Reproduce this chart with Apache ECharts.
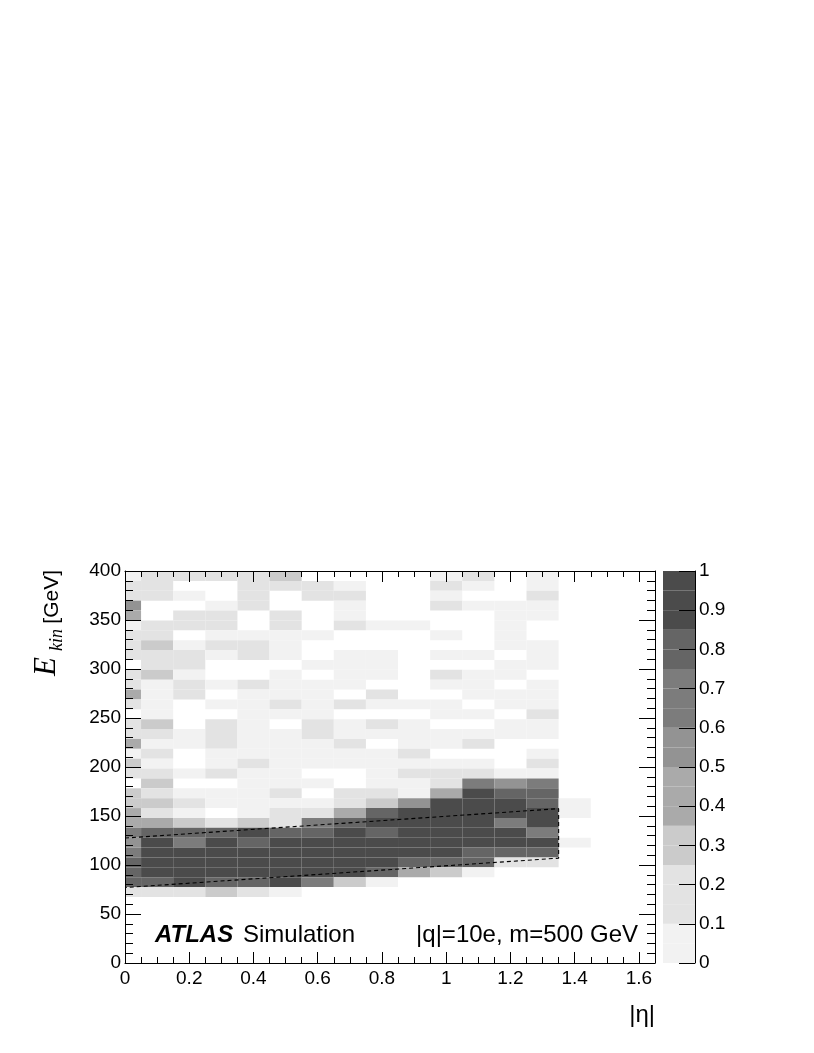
<!DOCTYPE html>
<html>
<head>
<meta charset="utf-8">
<script src="https://cdn.jsdelivr.net/npm/echarts@6/dist/echarts.min.js"></script>
<style>
html,body{margin:0;padding:0;background:#fff;}
#main{width:814px;height:1053px;}
</style>
</head>
<body>
<div id="main"></div>
<script>
// |eta| bin edges (first bin is cut at 0)
var etaEdges = [0, 0.05, 0.15, 0.25, 0.35, 0.45, 0.55, 0.65, 0.75, 0.85, 0.95, 1.05, 1.15, 1.25, 1.35, 1.45];
// E_kin rows, from the top of the plot downwards
var eTop = 400;
var eStep = 10.08;
// efficiency per cell, one row per E_kin bin (top row first), one value per |eta| bin
var eff = [
	[.05,.15,.15,.15,.15,.3,0,0,0,0,.05,.15,0,.05,0],
	[.15,.15,0,0,.15,.15,.15,.05,0,0,.15,.05,0,.05,0],
	[.15,.15,.05,0,.15,0,.15,.15,0,0,.05,0,0,.15,0],
	[.55,0,0,.05,.15,0,0,.05,0,0,.15,.05,.05,.05,0],
	[.45,0,.15,.15,0,.15,0,.05,0,0,0,0,.05,.05,0],
	[.05,.15,.15,.15,0,.15,0,.15,.05,.05,0,0,.05,0,0],
	[.15,.15,0,.05,.05,.05,.05,0,0,0,.05,0,.05,0,0],
	[.15,.3,.05,.15,.15,.05,0,0,0,0,0,0,.05,.05,0],
	[.15,.15,.15,.05,.15,.05,0,.05,.05,0,.05,.05,0,.05,0],
	[0,.15,.15,0,0,0,.05,.05,.05,0,0,0,.05,.05,0],
	[.15,.3,.05,0,0,.05,0,.05,.05,0,.15,.05,.05,0,0],
	[.15,.05,.15,.05,.15,.05,.05,.05,0,0,.05,.05,0,.05,0],
	[.45,.05,.15,0,.05,.05,.05,0,.15,0,0,.05,.05,.05,0],
	[.15,.05,0,.05,.05,.15,.05,.15,.05,.05,.05,0,.05,.05,0],
	[0,.05,0,0,.05,.05,.05,0,0,0,.05,.05,0,.15,0],
	[.15,.3,0,.15,.05,0,.15,.05,.15,.05,0,0,.05,.05,0],
	[.15,.15,.05,.15,.05,.05,.15,.05,.05,.05,.05,.05,.05,.05,0],
	[.45,.05,.05,.15,.05,.05,.05,.15,0,.05,.05,.15,0,0,0],
	[.05,.15,0,.05,.05,.05,.05,.05,.05,.15,0,0,0,.05,0],
	[.3,.05,0,.05,.15,.05,.05,.05,.05,.05,.05,.05,0,.15,0],
	[.15,.15,.05,.15,.05,.05,0,0,.05,.15,.15,.15,.05,.05,0],
	[0,.3,0,0,.05,.05,.05,0,.05,.05,.15,.7,.55,.7,0],
	[.3,.15,.05,.05,.05,.15,0,.15,.15,.05,.45,.93,.8,.8,0],
	[.3,.3,.15,.05,.05,.05,.05,.15,.3,.55,.93,.93,.93,.8,.05],
	[.45,.15,.05,0,.05,.15,.15,.45,.8,.93,.93,.93,.93,.93,.05],
	[.45,.45,.3,.15,.3,.2,.7,.8,.93,.93,.93,.93,.7,.93,0],
	[.6,.8,.8,.8,.93,.8,.8,.93,.8,.93,.93,.93,.93,.7,0],
	[.55,.93,.7,.93,.8,.93,.93,.93,.93,.93,.93,.93,.93,.93,.05],
	[.65,.93,.93,.93,.93,.93,.93,.93,.93,.93,.93,.8,.8,.8,0],
	[.8,.93,.93,.93,.93,.93,.93,.93,.93,.8,.8,.8,.15,.15,0],
	[.78,.93,.93,.93,.93,.93,.93,.93,.78,.45,.3,.05,0,0,0],
	[.8,.8,.93,.8,.8,.93,.7,.3,.05,0,0,0,0,0,0],
	[.15,.15,.15,.3,.15,.05,0,0,0,0,0,0,0,0,0]
];
// dashed selection region (|eta|, E_kin)
var cutEta = [0, 1.35, 1.35, 0];
var cutE = [127.5, 157.5, 107, 77];
// grey palette, 20 steps from 0 to 1
var palette = [
	'#f2f2f2','#f2f2f2',
	'#e3e3e3','#e3e3e3','#e3e3e3',
	'#cbcbcb','#cbcbcb',
	'#aaaaaa','#aaaaaa','#aaaaaa',
	'#939393','#939393',
	'#7c7c7c','#7c7c7c','#7c7c7c',
	'#656565','#656565',
	'#4b4b4b','#4b4b4b','#4b4b4b'
];

var cells = [];
eff.forEach(function(row, r){
	row.forEach(function(v, c){
		if(v > 0){
			cells.push([etaEdges[c], etaEdges[c+1], eTop - eStep*(r+1), eTop - eStep*r, v]);
		}
	});
});
var pieces = palette.map(function(col, i){
	var p = {gte: i/20, color: col};
	if(i < 19) p.lt = (i+1)/20; else p.lte = 1;
	return p;
});
var bands = palette.map(function(col, i){
	return [i/20, (i+1)/20, i];
});
var cutLine = cutEta.map(function(x, i){ return [x, cutE[i]]; });

var font = 'Liberation Sans, Arial, sans-serif';
var serif = 'Liberation Serif, Times New Roman, serif';
var black = {color:'#000', width:1};

//common axis pieces
function frameX(pos, interval, len, labels){
	return {gridIndex:0, type:'value', position:pos, min:0, max:1.65, interval:interval, z:10,
		axisLine:{show:len > 10, onZero:false, lineStyle:black},
		axisTick:{inside:true, length:len, lineStyle:black},
		axisLabel:labels ? {fontFamily:font, fontSize:19, color:'#000', margin:6, showMaxLabel:false} : {show:false},
		splitLine:{show:false}};
}
function frameY(pos, labels){
	return {gridIndex:0, type:'value', position:pos, min:0, max:400, interval:50, z:10,
		axisLine:{show:true, onZero:false, lineStyle:black},
		axisTick:{inside:true, length:16, lineStyle:black},
		minorTick:{show:true, splitNumber:5, length:8, lineStyle:black},
		axisLabel:labels ? {fontFamily:font, fontSize:19, color:'#000', margin:4} : {show:false},
		splitLine:{show:false}};
}

var chart = echarts.init(document.getElementById('main'), null, {renderer:'canvas'});
chart.setOption({
	animation: false,
	backgroundColor: '#fff',
	grid: [
		{left:125, top:571, width:530, height:392},
		{left:663, top:571, width:32, height:392}
	],
	visualMap: {
		type:'piecewise', show:false, seriesIndex:0, dimension:4, pieces:pieces
	},
	xAxis: [
		frameX('bottom', 0.2, 11, true),
		frameX('bottom', 0.05, 6, false),
		frameX('top', 0.2, 11, false),
		frameX('top', 0.05, 6, false),
		{gridIndex:1, type:'value', min:0, max:1, show:false}
	],
	yAxis: [
		frameY('left', true),
		frameY('right', false),
		{gridIndex:1, type:'value', position:'right', min:0, max:1, interval:0.1, z:10,
			axisLine:{show:true, onZero:false, lineStyle:black},
			axisTick:{inside:true, length:16, lineStyle:black},
			axisLabel:{fontFamily:font, fontSize:19, color:'#000', margin:4,
				formatter:function(v){ return String(+v.toFixed(2)); }},
			splitLine:{show:false}}
	],
	series: [
		{
			type:'custom', xAxisIndex:0, yAxisIndex:0, clip:true, z:1,
			encode:{x:[0,1], y:[2,3]},
			data:cells,
			renderItem:function(params, api){
				var p0 = api.coord([api.value(0), api.value(3)]);
				var p1 = api.coord([api.value(1), api.value(2)]);
				return {type:'rect', shape:{x:p0[0], y:p0[1], width:p1[0]-p0[0], height:p1[1]-p0[1]},
					style:{fill:api.visual('color')}};
			}
		},
		{
			type:'line', xAxisIndex:0, yAxisIndex:0, z:3,
			data:cutLine, symbol:'none', silent:true,
			lineStyle:{color:'#000', width:1.1, type:[4,3]}
		},
		{
			type:'custom', xAxisIndex:4, yAxisIndex:2, z:1,
			data:bands,
			renderItem:function(params, api){
				var p0 = api.coord([0, api.value(1)]);
				var p1 = api.coord([1, api.value(0)]);
				return {type:'rect', shape:{x:p0[0], y:p0[1], width:p1[0]-p0[0], height:p1[1]-p0[1]},
					style:{fill:palette[api.value(2)]}};
			}
		}
	],
	graphic: [
		{type:'text', x:52, y:570, rotation:Math.PI/2,
			style:{text:'[GeV]', font:'21px ' + font, fill:'#000', align:'right', verticalAlign:'middle'}},
		{type:'text', x:57, y:629, rotation:Math.PI/2,
			style:{text:'kin', font:'italic 18px ' + serif, fill:'#000', align:'right', verticalAlign:'middle'}},
		{type:'text', x:47, y:657, rotation:Math.PI/2,
			style:{text:'E', font:'italic 31px ' + serif, fill:'#000', align:'right', verticalAlign:'middle'}},
		{type:'text', x:655, y:1015,
			style:{text:'|\u03b7|', font:'24px ' + font, fill:'#000', align:'right', verticalAlign:'middle'}},
		{type:'text', x:155, y:935,
			style:{text:'ATLAS', font:'italic bold 24px ' + font, fill:'#000', verticalAlign:'middle'}},
		{type:'text', x:243, y:935,
			style:{text:'Simulation', font:'24px ' + font, fill:'#000', verticalAlign:'middle'}},
		{type:'text', x:638, y:935,
			style:{text:'|q|=10e, m=500 GeV', font:'24px ' + font, fill:'#000', align:'right', verticalAlign:'middle'}}
	]
});
</script>
</body>
</html>
